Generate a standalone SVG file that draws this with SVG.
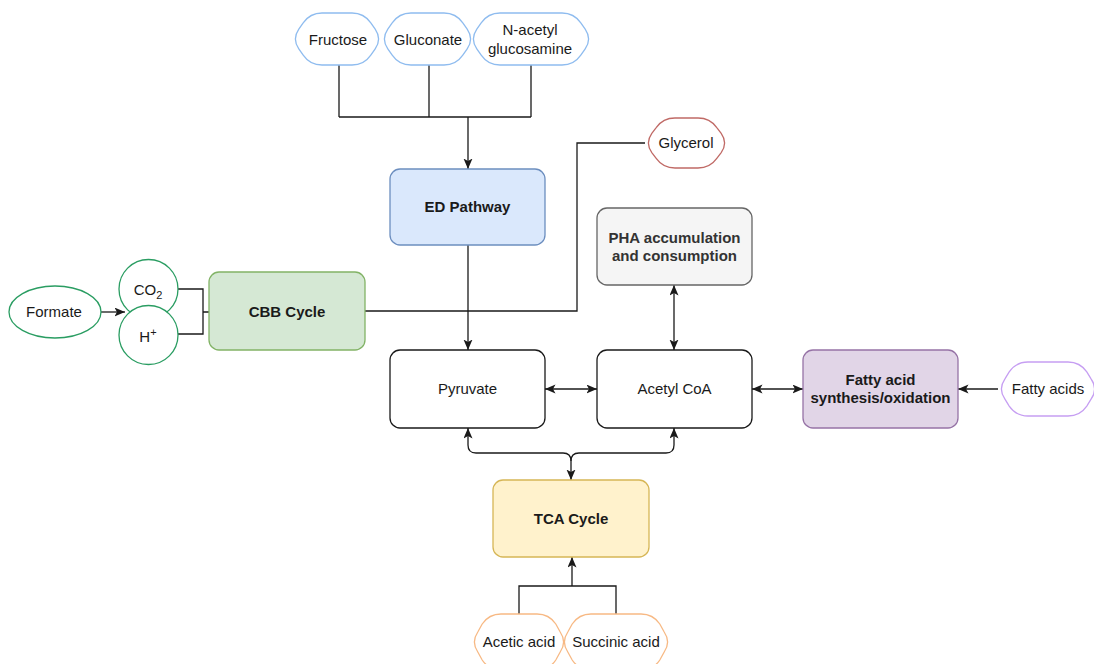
<svg xmlns="http://www.w3.org/2000/svg" width="1094" height="664" viewBox="0 0 1094 664">
  <style>
    text { font-family: "Liberation Sans", Arial, sans-serif; font-size: 15px; fill: #1a1a1a; text-anchor: middle; }
    .b { font-weight: bold; }
    .box { stroke-width: 1.3; }
    .wire { fill: none; stroke: #1a1a1a; stroke-width: 1.3; }
    .hex { fill: #ffffff; stroke-width: 1.3; }
    .blue { stroke: #8fbcef; }
    .red { stroke: #c06a66; }
    .purple { stroke: #c69ef2; }
    .orange { stroke: #f7b984; }
    .green { fill: #ffffff; stroke: #2a9d62; stroke-width: 1.3; }
  </style>
  <defs>
    <marker id="arrow" markerUnits="userSpaceOnUse" markerWidth="12" markerHeight="10" refX="10.5" refY="4.5" orient="auto-start-reverse">
      <path d="M0,0 L10.5,4.5 L0,9 L2.5,4.5 Z" fill="#1a1a1a"/>
    </marker>
  </defs>

  <!-- connectors -->
  <g id="connectors">
    <path class="wire" d="M339,65 V117 M429,65 V117 M531,65 V117 M339,117 H531"/>
    <path class="wire" d="M468,117 V169" marker-end="url(#arrow)"/>
    <path class="wire" d="M468,245 V350" marker-end="url(#arrow)"/>
    <path class="wire" d="M645,143 H577 V311 H365"/>
    <path class="wire" d="M100,312 H125" marker-end="url(#arrow)"/>
    <path class="wire" d="M178,289 H203 V334 H178 M203,312 H209"/>
    <path class="wire" d="M545,389 H597" marker-start="url(#arrow)" marker-end="url(#arrow)"/>
    <path class="wire" d="M674,285 V350" marker-start="url(#arrow)" marker-end="url(#arrow)"/>
    <path class="wire" d="M752,389 H803" marker-start="url(#arrow)" marker-end="url(#arrow)"/>
    <path class="wire" d="M998,389 H958" marker-end="url(#arrow)"/>
    <path class="wire" d="M468,428 V445 Q468,453 476,453 H563 Q571,453 571,461 V480" marker-start="url(#arrow)" marker-end="url(#arrow)"/>
    <path class="wire" d="M674,428 V445 Q674,453 666,453 H579 Q571,453 571,461" marker-start="url(#arrow)"/>
    <path class="wire" d="M519,614 V586 H616 V614"/>
    <path class="wire" d="M572,586 V557" marker-end="url(#arrow)"/>
  </g>

  <!-- substrates feeding the ED pathway -->
  <g id="fructose">
    <path class="hex blue" d="M322,13 L352,13 Q364,13 370.8,22.9 L375.2,29.1 Q382,39 375.2,48.9 L370.8,55.1 Q364,65 352,65 L322,65 Q310,65 303.2,55.1 L298.8,48.9 Q292,39 298.8,29.1 L303.2,22.9 Q310,13 322,13 Z"/>
    <text x="338" y="45">Fructose</text>
  </g>
  <g id="gluconate">
    <path class="hex blue" d="M411,13 L444,13 Q456,13 462.8,22.9 L467.2,29.1 Q474,39 467.2,48.9 L462.8,55.1 Q456,65 444,65 L411,65 Q399,65 392.2,55.1 L387.8,48.9 Q381,39 387.8,29.1 L392.2,22.9 Q399,13 411,13 Z"/>
    <text x="428" y="45">Gluconate</text>
  </g>
  <g id="n-acetylglucosamine">
    <path class="hex blue" d="M500,13 L562,13 Q574,13 580.8,22.9 L585.2,29.1 Q592,39 585.2,48.9 L580.8,55.1 Q574,65 562,65 L500,65 Q488,65 481.2,55.1 L476.8,48.9 Q470,39 476.8,29.1 L481.2,22.9 Q488,13 500,13 Z"/>
    <text x="530" y="35">N-acetyl</text>
    <text x="530" y="54">glucosamine</text>
  </g>

  <g id="glycerol">
    <path class="hex red" d="M675,118 L698,118 Q710,118 716.8,127.6 L721.2,133.4 Q728,143 721.2,152.6 L716.8,158.4 Q710,168 698,168 L675,168 Q663,168 656.2,158.4 L651.8,152.6 Q645,143 651.8,133.4 L656.2,127.6 Q663,118 675,118 Z"/>
    <text x="686" y="148">Glycerol</text>
  </g>

  <g id="ed-pathway">
    <rect class="box" x="390" y="169" width="155" height="76" rx="10" fill="#dae8fc" stroke="#6c8ebf"/>
    <text class="b" x="467.5" y="212">ED Pathway</text>
  </g>

  <g id="pha">
    <rect class="box" x="597" y="208" width="155" height="77" rx="10" fill="#f5f5f5" stroke="#666666"/>
    <text class="b" x="674.5" y="243" style="fill:#333333">PHA accumulation</text>
    <text class="b" x="674.5" y="261" style="fill:#333333">and consumption</text>
  </g>

  <!-- formate to CO2 / H+ -->
  <g id="formate">
    <ellipse class="green" cx="55" cy="312" rx="46" ry="26"/>
    <text x="54" y="317">Formate</text>
  </g>
  <g id="co2">
    <circle class="green" cx="148.5" cy="289" r="29.5"/>
    <text x="148" y="295">CO<tspan font-size="11" dy="4">2</tspan></text>
  </g>
  <g id="h-plus">
    <circle class="green" cx="148.5" cy="335" r="29.5"/>
    <text x="148" y="342">H<tspan font-size="11" dy="-6">+</tspan></text>
  </g>

  <g id="cbb-cycle">
    <rect class="box" x="209" y="272" width="156" height="78" rx="10" fill="#d5e8d4" stroke="#82b366"/>
    <text class="b" x="287" y="317">CBB Cycle</text>
  </g>

  <g id="pyruvate">
    <rect class="box" x="390" y="350" width="155" height="78" rx="10" fill="#ffffff" stroke="#1a1a1a"/>
    <text x="467.5" y="394">Pyruvate</text>
  </g>
  <g id="acetyl-coa">
    <rect class="box" x="597" y="350" width="155" height="78" rx="10" fill="#ffffff" stroke="#1a1a1a"/>
    <text x="674.5" y="394">Acetyl CoA</text>
  </g>

  <g id="fatty-acid-metabolism">
    <rect class="box" x="803" y="350" width="155" height="78" rx="10" fill="#e1d5e7" stroke="#9673a6"/>
    <text class="b" x="880.5" y="385">Fatty acid</text>
    <text class="b" x="880.5" y="403">synthesis/oxidation</text>
  </g>
  <g id="fatty-acids">
    <path class="hex purple" d="M1028,362 L1068,362 Q1080,362 1086.8,371.9 L1091.2,379.1 Q1098,389 1091.2,398.9 L1086.8,406.1 Q1080,416 1068,416 L1028,416 Q1016,416 1009.2,406.1 L1004.8,398.9 Q998,389 1004.8,379.1 L1009.2,371.9 Q1016,362 1028,362 Z"/>
    <text x="1048" y="394">Fatty acids</text>
  </g>

  <g id="tca-cycle">
    <rect class="box" x="493" y="480" width="156" height="77" rx="10" fill="#fff2cc" stroke="#d6b656"/>
    <text class="b" x="571" y="524">TCA Cycle</text>
  </g>

  <g id="acetic-acid">
    <path class="hex orange" d="M501,614 L537,614 Q549,614 555.8,624 L560.2,632 Q567,642 560.2,652 L555.8,660 Q549,670 537,670 L501,670 Q489,670 482.2,660 L477.8,652 Q471,642 477.8,632 L482.2,624 Q489,614 501,614 Z"/>
    <text x="519" y="647">Acetic acid</text>
  </g>
  <g id="succinic-acid">
    <path class="hex orange" d="M591,614 L641,614 Q653,614 659.8,624 L664.2,632 Q671,642 664.2,652 L659.8,660 Q653,670 641,670 L591,670 Q579,670 572.2,660 L567.8,652 Q561,642 567.8,632 L572.2,624 Q579,614 591,614 Z"/>
    <text x="616" y="647">Succinic acid</text>
  </g>
</svg>
